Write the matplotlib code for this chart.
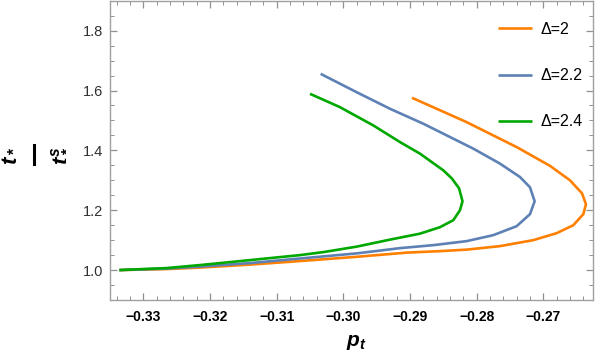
import numpy as np
import matplotlib
matplotlib.use('Agg')
import matplotlib.pyplot as plt
from matplotlib.lines import Line2D

plt.rcParams['font.family'] = ['Liberation Sans', 'DejaVu Sans']
plt.rcParams['mathtext.fontset'] = 'custom'
plt.rcParams['mathtext.it'] = 'Liberation Sans:italic:bold'
plt.rcParams['mathtext.rm'] = 'Liberation Sans:bold'
plt.rcParams['mathtext.bf'] = 'Liberation Sans:bold'

# values
p_d2 = [-0.3336, -0.3265, -0.3215, -0.314, -0.308, -0.298, -0.2905, -0.2855, -0.2815,
        -0.2765, -0.2715, -0.268, -0.2655, -0.264, -0.2636, -0.2642, -0.266, -0.269,
        -0.274, -0.2815, -0.2897]
t_d2 = [1.0, 1.0033, 1.0083, 1.0183, 1.0277, 1.0443, 1.0583, 1.0633, 1.0683,
        1.08, 1.1, 1.1233, 1.15, 1.1867, 1.22, 1.2567, 1.3, 1.3483,
        1.411, 1.4943, 1.5757]

p_d22 = [-0.3336, -0.3265, -0.3215, -0.314, -0.308, -0.298, -0.2915, -0.2865, -0.2815,
         -0.2775, -0.274, -0.272, -0.2713, -0.272, -0.2735, -0.2765, -0.2805, -0.288,
         -0.293, -0.298, -0.3034]
t_d22 = [1.0, 1.005, 1.0117, 1.0233, 1.0357, 1.0557, 1.0733, 1.0833, 1.0967,
         1.1167, 1.1467, 1.1867, 1.23, 1.2767, 1.311, 1.3557, 1.4057, 1.489,
         1.539, 1.5943, 1.6557]

p_d24 = [-0.3336, -0.3265, -0.3215, -0.314, -0.3065, -0.303, -0.298, -0.293, -0.2885,
         -0.2855, -0.2835, -0.2825, -0.28212, -0.28264, -0.2837, -0.285, -0.2885, -0.2915,
         -0.2955, -0.3005, -0.305]
t_d24 = [1.0, 1.0067, 1.0167, 1.0333, 1.05, 1.06, 1.0783, 1.1017, 1.1217,
         1.1433, 1.1667, 1.2, 1.23, 1.2733, 1.3057, 1.3333, 1.389, 1.4277,
         1.4833, 1.5443, 1.589]

labels = ['Δ=2', 'Δ=2.2', 'Δ=2.4']
colors = ['#FF8000', '#5E81B5', '#00A800']

fig = plt.figure(figsize=(5.98, 3.61), dpi=100)
ax = fig.add_axes([110/598, 1 - 300/361, (593.3 - 110)/598, 300/361 - 0.002])

for p, t, lab, c in zip([p_d2, p_d22, p_d24], [t_d2, t_d22, t_d24], labels, colors):
    ax.plot(p, t, color=c, lw=1.9, label=lab, solid_capstyle='butt', solid_joinstyle='round')

ax.set_xlim(-0.335, -0.2625)
ax.set_ylim(0.9, 1.9)
ax.set_xticks(np.arange(-0.33, -0.265, 0.01))
ax.set_xticklabels(['\u22120.33', '\u22120.32', '\u22120.31', '\u22120.30',
                    '\u22120.29', '\u22120.28', '\u22120.27'], fontweight='bold')
ax.set_xticks(np.arange(-0.334, -0.262, 0.002), minor=True)
ax.set_yticks([1.0, 1.2, 1.4, 1.6, 1.8])
ax.set_yticklabels(['1.0', '1.2', '1.4', '1.6', '1.8'])
ax.set_yticks(np.arange(0.9, 1.91, 0.05), minor=True)

for s in ax.spines.values():
    s.set_color('#a0a0a0')
    s.set_linewidth(1.0)
ax.tick_params(which='both', direction='in', top=True, right=True, color='#909090')
ax.tick_params(which='major', length=5, width=0.9, labelsize=10.5, labelcolor='#303030', pad=5)
ax.tick_params(axis='x', which='major', labelcolor='black', labelsize=10, pad=7)
ax.tick_params(which='minor', length=3, width=0.7)

fig.text(356/598, 1 - 343/361, r'$p_t$', ha='center', va='center', fontsize=15)

# y label: t_* over t_*^s, written as a rotated fraction
fig.text(9/598, 1 - 156/361, r'$t_*$', ha='center', va='center', fontsize=16, rotation=90)
fig.text(58/598, 1 - 156/361, r'$t_*^s$', ha='center', va='center', fontsize=16, rotation=90)
fig.add_artist(Line2D([33.5/598, 33.5/598], [1 - 145/361, 1 - 164/361],
                      transform=fig.transFigure, color='black', lw=2.2))

ax.legend(loc='upper left', bbox_to_anchor=(490/598, 1 - 14/361), bbox_transform=fig.transFigure,
          frameon=False, fontsize=11.5, handlelength=2.1, handletextpad=0.55,
          labelspacing=1.95, borderpad=0)

fig.savefig('out.png', dpi=100)
